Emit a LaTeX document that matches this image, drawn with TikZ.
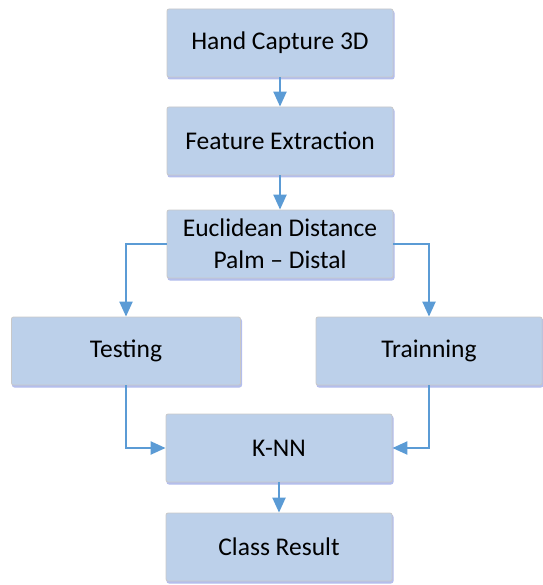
\documentclass[tikz,border=0pt]{standalone}
\usepackage{fontspec}
\setmainfont{Carlito}
\usetikzlibrary{arrows.meta,positioning,calc}
\definecolor{boxfill}{HTML}{BCD0EA}
\definecolor{boxline}{HTML}{C8C8C8}
\definecolor{boxshadow}{HTML}{B4BEEC}
\definecolor{arrowc}{HTML}{5B9BD5}
\begin{document}
\begin{tikzpicture}[x=1pt,y=-1pt,
  flowbox/.style={draw=boxline,line width=0.8pt,fill=boxfill,rounded corners=2pt,
     minimum width=#1,minimum height=68pt,inner sep=0pt,align=center,
     font=\fontsize{25.5}{32}\selectfont,
     preaction={draw=boxshadow,line width=1pt,fill=boxshadow,transform canvas={xshift=1pt,yshift=-2pt}}},
  flowbox/.default=226pt,
  conn/.style={draw=arrowc,line width=2.2pt,-{Triangle[length=15pt,width=13pt]}}]
\useasboundingbox (0,0) rectangle (542,585);
\node[flowbox] (hand) at (280,43) {Hand Capture 3D};
\node[flowbox] (feat) at (280,141) {Feature Extraction};
\node[flowbox] (eucl) at (280,244) {Euclidean Distance\\Palm -- Distal};
\node[flowbox=229pt] (test) at (126,351) {Testing};
\node[flowbox=226pt] (train) at (429,351) {Trainning};
\node[flowbox] (knn) at (279,448) {K-NN};
\node[flowbox] (class) at (279,547) {Class Result};
\draw[conn] (hand.south) -- (feat.north);
\draw[conn] (feat.south) -- (eucl.north);
\draw[conn] (eucl.west) -| (test.north);
\draw[conn] (eucl.east) -| (train.north);
\draw[conn] (test.south) |- (knn.west);
\draw[conn] (train.south) |- (knn.east);
\draw[conn] (knn.south) -- (class.north);
\end{tikzpicture}
\end{document}
